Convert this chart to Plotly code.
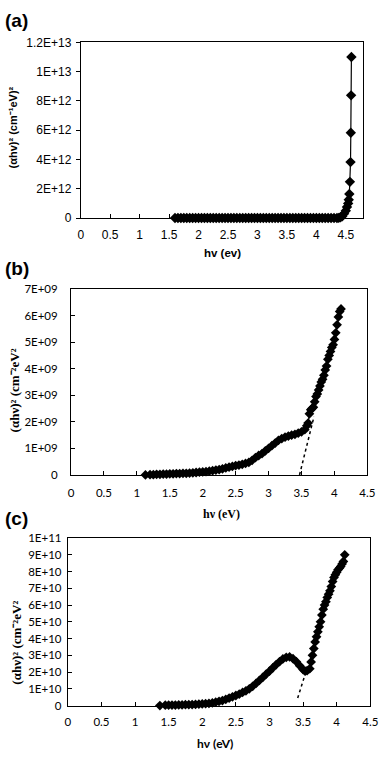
import plotly.graph_objects as go

W, H = 388, 758

# ---------------- data ----------------
# (a)
a_x = [1.60, 1.65, 1.70, 1.75, 1.80, 1.85, 1.90, 1.95, 2.00, 2.05, 2.10, 2.15, 2.20, 2.25,
       2.30, 2.35, 2.40, 2.45, 2.50, 2.55, 2.60, 2.65, 2.70, 2.75, 2.80, 2.85, 2.90, 2.95,
       3.00, 3.05, 3.10, 3.15, 3.20, 3.25, 3.30, 3.35, 3.40, 3.45, 3.50, 3.55, 3.60, 3.65,
       3.70, 3.75, 3.80, 3.85, 3.90, 3.95, 4.00, 4.05, 4.10, 4.15, 4.20, 4.25, 4.30, 4.35,
       4.38, 4.41, 4.44, 4.47, 4.50, 4.52, 4.54, 4.55, 4.56, 4.57, 4.58, 4.585, 4.59, 4.595]
a_y = [0, 0, 0, 0, 0, 0, 0, 0, 0, 0, 0, 0, 0, 0,
       0, 0, 0, 0, 0, 0, 0, 0, 0, 0, 0, 0, 0, 0,
       0, 0, 0, 0, 0, 0, 0, 0, 0, 0, 0, 0, 0, 0,
       0, 0, 0, 0, 0, 0, 0, 0, 0, 0, 0, 0, 0, 0,
       0.01e12, 0.05e12, 0.12e12, 0.3e12, 0.5e12, 0.75e12, 1.0e12, 1.25e12, 1.64e12,
       2.47e12, 3.82e12, 5.82e12, 8.38e12, 11.0e12]
a_ytick_vals = [0, 2e12, 4e12, 6e12, 8e12, 1e13, 1.2e13]
a_ytick_text = ["0", "2E+12", "4E+12", "6E+12", "8E+12", "1E+13", "1.2E+13"]

# (b)
b_x = [1.13, 1.20, 1.25, 1.30, 1.35, 1.40, 1.45, 1.50, 1.55, 1.60, 1.65, 1.70, 1.75, 1.80,
       1.85, 1.90, 1.95, 2.00, 2.05, 2.10, 2.15, 2.20, 2.25, 2.30, 2.35, 2.40, 2.45, 2.50,
       2.55, 2.60, 2.65, 2.70, 2.75, 2.80, 2.85, 2.90, 2.95, 3.00, 3.05, 3.10, 3.15, 3.20,
       3.25, 3.30, 3.35, 3.40, 3.45, 3.50, 3.55, 3.58, 3.60, 3.62, 3.64, 3.66, 3.68, 3.70,
       3.72, 3.74, 3.76, 3.78, 3.80, 3.82, 3.84, 3.86, 3.88, 3.90, 3.92, 3.94, 3.96, 3.98,
       4.00, 4.02, 4.04, 4.06, 4.08, 4.10]
b_y = [0.00, 0.01, 0.01, 0.02, 0.02, 0.03, 0.03, 0.04, 0.04, 0.05, 0.05, 0.06, 0.06, 0.07,
       0.08, 0.09, 0.10, 0.11, 0.12, 0.14, 0.16, 0.18, 0.20, 0.23, 0.26, 0.29, 0.32, 0.35,
       0.37, 0.40, 0.43, 0.47, 0.55, 0.65, 0.73, 0.80, 0.90, 1.00, 1.10, 1.20, 1.30, 1.37,
       1.42, 1.46, 1.50, 1.53, 1.57, 1.62, 1.70, 1.85, 1.95, 2.30, 2.45, 2.50, 2.55, 2.75,
       2.95, 3.05, 3.20, 3.35, 3.50, 3.60, 3.75, 3.95, 4.10, 4.35, 4.50, 4.65, 4.80, 4.90,
       5.10, 5.35, 5.65, 5.95, 6.15, 6.25]
b_y = [v * 1e9 for v in b_y]
b_fit_x = [3.47, 3.69]
b_fit_y = [0, 2.2e9]
b_ytick_vals = [0, 1e9, 2e9, 3e9, 4e9, 5e9, 6e9, 7e9]
b_ytick_text = ["0", "1E+09", "2E+09", "3E+09", "4E+09", "5E+09", "6E+09", "7E+09"]

# (c)
c_x = [1.37, 1.45, 1.50, 1.55, 1.60, 1.65, 1.70, 1.75, 1.80, 1.85, 1.90, 1.95, 2.00, 2.05,
       2.10, 2.15, 2.20, 2.25, 2.30, 2.35, 2.40, 2.45, 2.50, 2.55, 2.60, 2.65, 2.70, 2.75,
       2.80, 2.85, 2.90, 2.95, 3.00, 3.05, 3.10, 3.15, 3.20, 3.25, 3.30, 3.35, 3.40, 3.45,
       3.50, 3.53, 3.56, 3.60, 3.62, 3.64, 3.66, 3.68, 3.70, 3.72, 3.74, 3.76, 3.78, 3.80,
       3.82, 3.84, 3.86, 3.88, 3.90, 3.92, 3.94, 3.96, 3.98, 4.00, 4.02, 4.04, 4.06, 4.08,
       4.10, 4.12]
c_y = [0.00, 0.02, 0.02, 0.03, 0.03, 0.04, 0.04, 0.05, 0.05, 0.06, 0.07, 0.08, 0.10, 0.11,
       0.13, 0.16, 0.20, 0.25, 0.30, 0.37, 0.45, 0.52, 0.60, 0.68, 0.78, 0.88, 1.00, 1.15,
       1.32, 1.50, 1.68, 1.87, 2.05, 2.25, 2.45, 2.62, 2.78, 2.88, 2.90, 2.80, 2.62, 2.38,
       2.15, 2.05, 2.08, 2.20, 2.60, 3.00, 3.40, 3.80, 4.10, 4.40, 4.70, 5.00, 5.40, 5.75,
       6.00, 6.20, 6.45, 6.65, 6.85, 7.10, 7.40, 7.65, 7.80, 7.95, 8.10, 8.20, 8.30, 8.45,
       8.60, 9.00]
c_y = [v * 1e10 for v in c_y]
c_fit_x = [3.42, 3.53]
c_fit_y = [0.45e10, 1.85e10]
c_ytick_vals = [i * 1e10 for i in range(11)]
c_ytick_text = ["0", "1E+10", "2E+10", "3E+10", "4E+10", "5E+10", "6E+10", "7E+10",
                "8E+10", "9E+10", "1E+11"]

x_tick_vals = [0, 0.5, 1, 1.5, 2, 2.5, 3, 3.5, 4, 4.5]
x_tick_text = ["0", "0.5", "1", "1.5", "2", "2.5", "3", "3.5", "4", "4.5"]

# ---------------- helpers (pixel -> paper) ----------------
def px(x):
    return x / W

def py(y):
    return 1 - y / H

fig = go.Figure()

# (a)
fig.add_trace(go.Scatter(x=a_x, y=a_y, mode="lines+markers", xaxis="x", yaxis="y",
                         line=dict(color="black", width=1.2),
                         marker=dict(symbol="diamond", size=8, color="black"),
                         cliponaxis=False, showlegend=False))
# (b)
fig.add_trace(go.Scatter(x=b_x, y=b_y, mode="lines+markers", xaxis="x2", yaxis="y2",
                         line=dict(color="black", width=1.2),
                         marker=dict(symbol="diamond", size=7.5, color="black"),
                         cliponaxis=False, showlegend=False))
fig.add_trace(go.Scatter(x=b_fit_x, y=b_fit_y, mode="lines", xaxis="x2", yaxis="y2",
                         line=dict(color="black", width=1.5, dash="dot"),
                         showlegend=False))
# (c)
fig.add_trace(go.Scatter(x=c_x, y=c_y, mode="lines+markers", xaxis="x3", yaxis="y3",
                         line=dict(color="black", width=1.2),
                         marker=dict(symbol="diamond", size=7.5, color="black"),
                         cliponaxis=False, showlegend=False))
fig.add_trace(go.Scatter(x=c_fit_x, y=c_fit_y, mode="lines", xaxis="x3", yaxis="y3",
                         line=dict(color="black", width=1.5, dash="dot"),
                         showlegend=False))

arial = "Liberation Sans, Arial, sans-serif"
cal = "Lato, Open Sans, sans-serif"
times = "Liberation Serif, Times New Roman, serif"

common = dict(showgrid=False, zeroline=False, showline=True, linecolor="black",
              linewidth=1, mirror=True, ticklen=4, tickcolor="black", tickwidth=1,
              ticklabeloverflow="allow")

fig.update_layout(
    width=W, height=H, margin=dict(l=0, r=0, t=0, b=0),
    paper_bgcolor="white", plot_bgcolor="white", showlegend=False,
    xaxis=dict(domain=[px(80), px(371)], anchor="y", range=[0, 4.8],
               tickmode="array", tickvals=x_tick_vals, ticktext=x_tick_text,
               ticks="inside", ticklabelstandoff=6,
               tickfont=dict(family=arial, size=12, color="black"), **common),
    yaxis=dict(domain=[py(215), py(36)], anchor="x", range=[0, 1.2e13],
               tickmode="array", tickvals=a_ytick_vals, ticktext=a_ytick_text,
               ticks="outside", ticklabelstandoff=2,
               tickfont=dict(family=arial, size=12, color="black"), **common),
    xaxis2=dict(domain=[px(70), px(375)], anchor="y2", range=[0, 4.5],
                tickmode="array", tickvals=x_tick_vals, ticktext=x_tick_text,
                ticks="inside", ticklabelstandoff=7,
                tickfont=dict(family=cal, size=11.5, color="black"), **common),
    yaxis2=dict(domain=[py(476.7), py(287.3)], anchor="x2", range=[0, 7e9],
                tickmode="array", tickvals=b_ytick_vals, ticktext=b_ytick_text,
                ticks="inside", ticklabelstandoff=10,
                tickfont=dict(family=cal, size=11.5, color="black"), **common),
    xaxis3=dict(domain=[px(66.7), px(378)], anchor="y3", range=[0, 4.5],
                tickmode="array", tickvals=x_tick_vals, ticktext=x_tick_text,
                ticks="inside", ticklabelstandoff=6,
                tickfont=dict(family=cal, size=11.5, color="black"), **common),
    yaxis3=dict(domain=[py(711.7), py(541)], anchor="x3", range=[0, 1e11],
                tickmode="array", tickvals=c_ytick_vals, ticktext=c_ytick_text,
                ticks="inside", ticklabelstandoff=3,
                tickfont=dict(family=cal, size=11.5, color="black"), **common),
)

def ann(text, x, y, font, size, angle=0, xanchor="center"):
    fig.add_annotation(text=text, x=px(x), y=py(y), xref="paper", yref="paper",
                       showarrow=False, textangle=angle, xanchor=xanchor, yanchor="middle",
                       font=dict(family=font, size=size, color="black"))

ann("<b>(a)</b>", 0, 14, arial, 19, xanchor="left")
ann("<b>(αhv)² (cm⁻¹eV)²</b>", 10, 123, arial, 11, angle=-90)
ann("<b>hv (ev)</b>", 226, 251, arial, 11.5)

ann("<b>(b)</b>", 0, 266, arial, 19, xanchor="left")
ann("<b>(αhν)² (cm⁻²eV²</b>", 12, 391, times, 13, angle=-90)
ann("<b>hν (eV)</b>", 225, 517, times, 12)

ann("<b>(c)</b>", 0, 521, arial, 19, xanchor="left")
ann("<b>(αhν)² (cm⁻²eV²</b>", 13, 648, times, 13, angle=-90)
ann("<b>hν (eV)</b>", 218, 750, cal, 12)

fig.write_html(
    "out.html",
    config={"displayModeBar": False},
    post_script="document.body.style.margin='0';document.body.style.overflow='hidden';"
                "document.documentElement.style.overflow='hidden';",
)
